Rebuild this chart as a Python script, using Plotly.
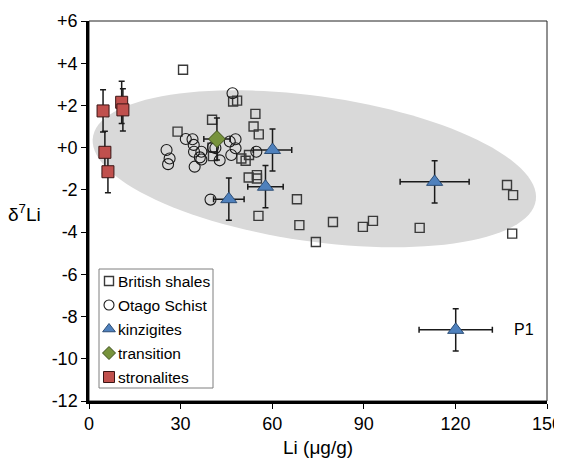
import numpy as np
import plotly.graph_objects as go

# ---------------- data ----------------
shale_x = [30.8, 47.2, 48.5, 54.5, 40.3, 53.9, 55.6, 29.0, 40.4, 40.6, 49.9, 51.3, 52.4,
           52.3, 55.0, 55.0, 68.1, 55.5, 68.9, 74.3, 79.9, 89.7, 93.0, 108.3, 136.9, 138.9, 138.6]
shale_y = [3.69, 2.19, 2.23, 1.60, 1.32, 1.00, 0.63, 0.76, 0.00, -0.40, -0.51, -0.62, -0.35,
           -1.41, -1.30, -1.46, -2.44, -3.23, -3.67, -4.47, -3.52, -3.75, -3.47, -3.80, -1.77, -2.25, -4.07]

otago_x = [47.0, 25.4, 26.4, 25.9, 31.7, 33.9, 34.3, 34.4, 36.8, 36.3, 36.8, 34.6, 40.6, 41.4,
           42.8, 46.1, 48.0, 48.0, 46.6, 54.8, 39.8]
otago_y = [2.58, -0.11, -0.51, -0.78, 0.41, 0.40, 0.13, -0.19, -0.19, -0.46, -0.56, -0.90, 0.02, -0.02,
           -0.60, 0.29, 0.40, -0.03, -0.35, -0.19, -2.46]

kinz_x = [60.1, 57.8, 45.8, 113.2, 120.1]
kinz_y = [-0.11, -1.85, -2.44, -1.62, -8.63]
kinz_ex = [6.3, 5.8, 5.0, 11.3, 12.0]
kinz_ey = [1.0, 1.0, 1.0, 1.0, 1.0]

trans_x = [41.9]
trans_y = [0.41]
trans_ex = [4.3]
trans_ey = [1.0]

stro_x = [4.6, 5.2, 6.2, 10.7, 11.1]
stro_y = [1.74, -0.22, -1.14, 2.15, 1.79]
stro_ey = [1.0, 1.0, 1.0, 1.0, 1.0]

series_names = ["British shales", "Otago Schist", "kinzigites", "transition", "stronalites"]

x_ticks = [0, 30, 60, 90, 120, 150]
y_ticks = [6, 4, 2, 0, -2, -4, -6, -8, -10, -12]
y_ticktext = ["+6", "+4", "+2", "+0", "-2", "-4", "-6", "-8", "-10", "-12"]

label_text = "P1"
label_x, label_y = 138.6, -8.63

# ellipse (centre in data units, axes in screen pixels, tilt in degrees)
ell_cx, ell_cy = 73.8, -1.0
ell_a_px, ell_b_px, ell_tilt = 223.7, 72.6, 8.1

# ---------------- style / geometry ----------------
W, H = 554, 450          # page adds an 8px body margin
ml, mr, mt, mb = 81, 15, 13, 57
xr = [0, 150]
yr = [-12, 6]
pw, ph = W - ml - mr, H - mt - mb
sx = pw / (xr[1] - xr[0])
sy = ph / (yr[1] - yr[0])

FONT = "Liberation Sans, Arial, sans-serif"

styles = [
    dict(symbol="square-open", size=9, color="#3a3a3a", line=dict(width=1.4, color="#3a3a3a")),
    dict(symbol="circle-open", size=11, color="#1a1a1a", line=dict(width=1.1, color="#1a1a1a")),
    dict(symbol="triangle-up", size=14, color="#4f81bd", line=dict(width=1, color="#2c4d75")),
    dict(symbol="diamond", size=13, color="#77933c", line=dict(width=1, color="#3d4f1c")),
    dict(symbol="square", size=12, color="#c0504d", line=dict(width=1, color="#3a1515")),
]
legend_sizes = [9, 10, 11, 10, 11]

t = np.linspace(0, 2 * np.pi, 120)
th = np.deg2rad(ell_tilt)
dx = ell_a_px * np.cos(t) * np.cos(th) - ell_b_px * np.sin(t) * np.sin(th)
dy = ell_a_px * np.cos(t) * np.sin(th) + ell_b_px * np.sin(t) * np.cos(th)
ex = ell_cx + dx / sx
ey = ell_cy - dy / sy
path = "M " + " L ".join(f"{a:.3f},{b:.3f}" for a, b in zip(ex, ey)) + " Z"

ebar = dict(type="data", color="#1a1a1a", thickness=1.5, width=3)

fig = go.Figure()
fig.add_trace(go.Scatter(x=shale_x, y=shale_y, mode="markers", name=series_names[0],
                         marker=styles[0]))
fig.add_trace(go.Scatter(x=otago_x, y=otago_y, mode="markers", name=series_names[1],
                         marker=styles[1]))
fig.add_trace(go.Scatter(x=kinz_x, y=kinz_y, mode="markers", name=series_names[2],
                         error_x=dict(ebar, array=kinz_ex), error_y=dict(ebar, array=kinz_ey),
                         marker=styles[2]))
fig.add_trace(go.Scatter(x=trans_x, y=trans_y, mode="markers", name=series_names[3],
                         error_x=dict(ebar, array=trans_ex), error_y=dict(ebar, array=trans_ey),
                         marker=styles[3]))
fig.add_trace(go.Scatter(x=stro_x, y=stro_y, mode="markers", name=series_names[4],
                         error_y=dict(ebar, array=stro_ey), marker=styles[4]))

# ---- legend drawn on an overlay axis measured in pixels from the plot's top-left ----
leg_left, leg_right, leg_top, leg_bottom = 10, 124, 248, 367
leg_row0, leg_step = 260, 24
leg_sym_x, leg_text_x = 20, 26.5
for i, (nm, st) in enumerate(zip(series_names, styles)):
    ry = leg_row0 + i * leg_step
    fig.add_trace(go.Scatter(x=[leg_sym_x], y=[ry], xaxis="x2", yaxis="y2", mode="markers",
                             marker=dict(st, size=legend_sizes[i]), showlegend=False,
                             hoverinfo="skip", name=nm))
    fig.add_annotation(xref="x2", yref="y2", x=leg_text_x, y=ry, text=nm, showarrow=False,
                       xanchor="left", yanchor="middle",
                       font=dict(size=15.5, color="black", family=FONT))

fig.add_annotation(x=label_x, y=label_y, text=label_text, showarrow=False,
                   xanchor="left", yanchor="middle", font=dict(size=16, color="black", family=FONT))

# axis titles
fig.add_annotation(xref="paper", yref="paper", x=0.5, y=-0.122, yanchor="middle",
                   text="Li (μg/g)", showarrow=False, font=dict(size=19, color="black", family=FONT))
fig.add_annotation(xref="paper", yref="paper", x=-0.1, y=0.495, xanchor="right", yanchor="middle",
                   text="δ<sup>7</sup>Li", showarrow=False, font=dict(size=19, color="black", family=FONT))

axis_common = dict(showgrid=False, zeroline=False, automargin=False,
                   showline=True, linewidth=2.5, linecolor="black",
                   ticks="outside", ticklen=5, tickwidth=1, tickcolor="black",
                   ticklabeloverflow="allow",
                   tickfont=dict(size=18, family=FONT, color="black"))

fig.update_layout(
    width=W, height=H,
    margin=dict(l=ml, r=mr, t=mt, b=mb),
    paper_bgcolor="white", plot_bgcolor="white",
    font=dict(family=FONT, color="black"),
    showlegend=False,
    shapes=[
        dict(type="path", path=path, xref="x", yref="y", fillcolor="#d9d9d9",
             line=dict(width=0), layer="below"),
        dict(type="rect", xref="paper", yref="paper", x0=0, x1=1, y0=0, y1=1,
             line=dict(width=1, color="#222222"), layer="below"),
        dict(type="rect", xref="x2", yref="y2", x0=leg_left, x1=leg_right, y0=leg_top, y1=leg_bottom,
             fillcolor="white", line=dict(width=1, color="#7f7f7f"), layer="below"),
    ],
    xaxis=dict(axis_common, range=xr, tickvals=x_ticks),
    yaxis=dict(axis_common, range=yr, tickvals=y_ticks, ticktext=y_ticktext),
    xaxis2=dict(overlaying="x", range=[0, pw], visible=False, fixedrange=True),
    yaxis2=dict(overlaying="y", range=[ph, 0], visible=False, fixedrange=True),
)

fig.write_html("out.html")
